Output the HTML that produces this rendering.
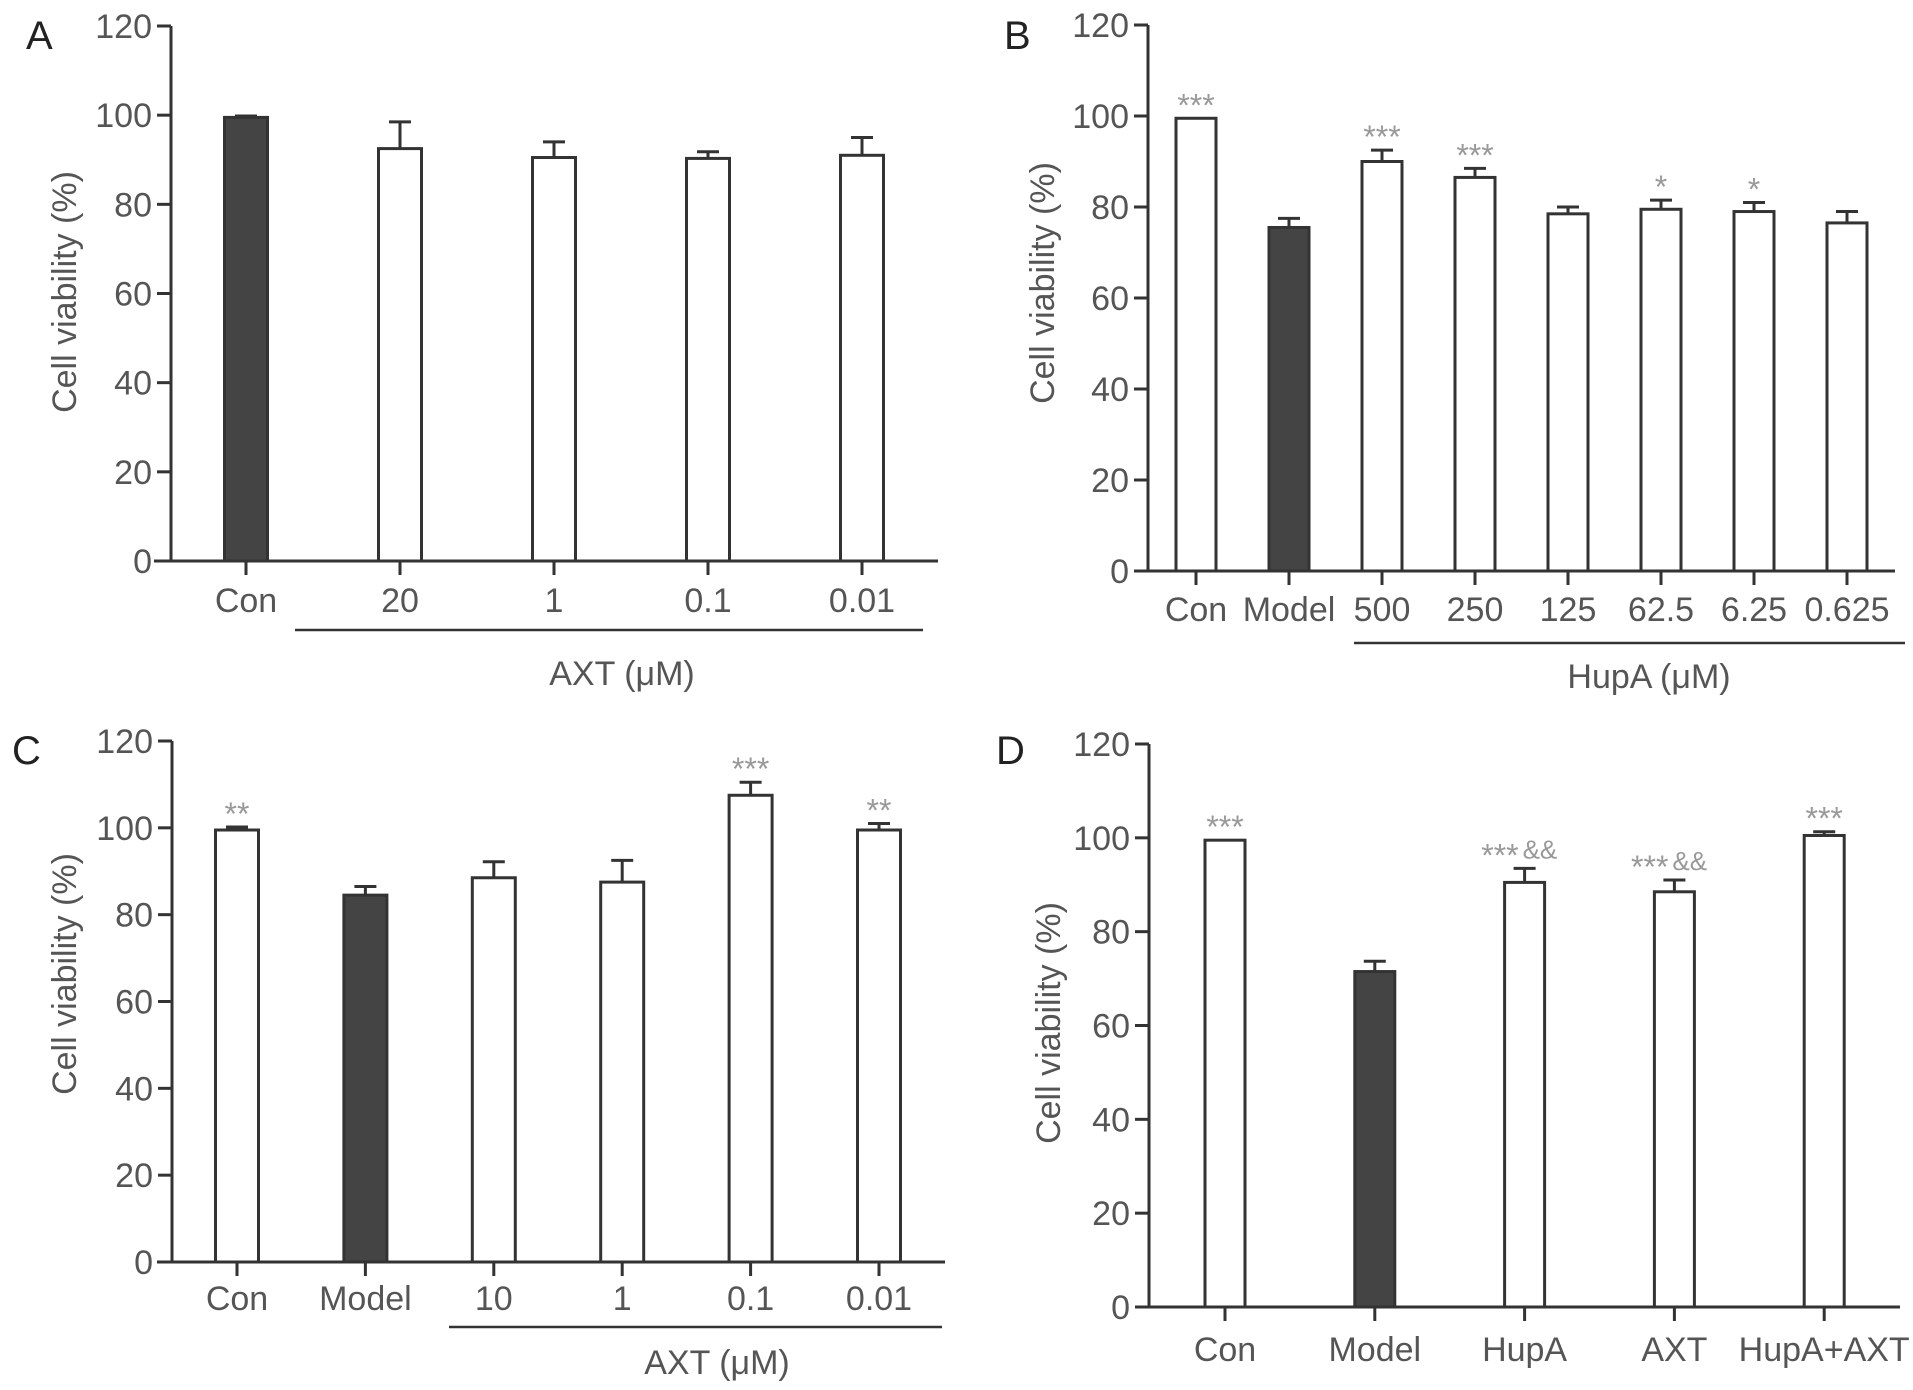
<!DOCTYPE html>
<html><head><meta charset="utf-8">
<style>
html,body{margin:0;padding:0;background:#fff;}
svg{display:block;}
text{font-family:"Liberation Sans",sans-serif;}
</style></head>
<body>
<svg id="fig" width="1913" height="1390" viewBox="0 0 1913 1390"></svg>
<script>
// Panel A data
const catsA = ["Con","20","1","0.1","0.01"];
const valsA = [99.5,92.5,90.5,90.3,91];
const errsA = [0.3,6,3.5,1.5,4];
const sigA = ["","","","",""];
// Panel B data
const catsB = ["Con","Model","500","250","125","62.5","6.25","0.625"];
const valsB = [99.5,75.5,90,86.5,78.5,79.5,79,76.5];
const errsB = [0,2,2.5,2,1.5,2,2,2.5];
const sigB = ["***","","***","***","","*","*",""];
// Panel C data
const catsC = ["Con","Model","10","1","0.1","0.01"];
const valsC = [99.5,84.5,88.5,87.5,107.5,99.5];
const errsC = [0.7,2,3.7,5,3,1.5];
const sigC = ["**","","","","***","**"];
// Panel D data
const catsD = ["Con","Model","HupA","AXT","HupA+AXT"];
const valsD = [99.5,71.5,90.5,88.5,100.5];
const errsD = [0,2.2,3,2.5,0.8];
const sigD = ["***","","***","***","***"];
const sig2D = ["","","&&","&&",""];
const yTicks = [0,20,40,60,80,100,120];

const NS="http://www.w3.org/2000/svg";
const svg=document.getElementById('fig');
function mk(tag,attrs,parent){const e=document.createElementNS(NS,tag);for(const k in attrs)e.setAttribute(k,attrs[k]);(parent||svg).appendChild(e);return e;}

function panel(p){
  const g=mk('g',{});
  
  
  const y=v=>p.y0-(v/120)*(p.y0-p.y120);
  const x=i=>p.x0c+i*p.step;
  const lt=mk('text',{x:p.lx,y:p.ly,'font-size':40,fill:'#222'},g);lt.textContent=p.id;
  
  
  const ya=mk('line',{x1:p.ax,y1:y(120),x2:p.ax,y2:p.y0,stroke:'#333','stroke-width':3},g);
  
  
  const xa=mk('line',{x1:p.xs,y1:p.y0,x2:p.xe,y2:p.y0,stroke:'#333','stroke-width':3},g);
  
  
  yTicks.forEach(t=>{
    mk('line',{x1:p.ax-14,y1:y(t),x2:p.ax,y2:y(t),stroke:'#333','stroke-width':3},g);
    const tt=mk('text',{x:p.ax-19,y:y(t)+12,'font-size':34,fill:'#555','text-anchor':'end'},g);tt.textContent=t;
    
    
  });
  const yt=mk('text',{x:0,y:0,'font-size':34,fill:'#555','text-anchor':'middle',transform:`translate(${p.ytx},${p.yty}) rotate(-90)`},g);
  yt.textContent='Cell viability (%)';
  
  
  p.cats.forEach((c,i)=>{
    const cx=x(i), v=p.vals[i], e=p.errs[i], bw=p.bw;
    const filled=(c==="Con"&&p.id==="A")||c==="Model";
    if(e>0){
      mk('line',{x1:cx,y1:y(v),x2:cx,y2:y(v+e),stroke:'#333','stroke-width':3},g);
      mk('line',{x1:cx-11,y1:y(v+e),x2:cx+11,y2:y(v+e),stroke:'#333','stroke-width':3},g);
    }
    const r=mk('rect',{x:cx-bw/2,y:y(v),width:bw,height:p.y0-y(v),fill:filled?'#444':'#fff',stroke:'#333','stroke-width':3},g);
    
    
    mk('line',{x1:cx,y1:p.y0,x2:cx,y2:p.y0+14,stroke:'#333','stroke-width':3},g);
    const tl=mk('text',{x:cx,y:p.tly,'font-size':34,fill:'#555','text-anchor':'middle'},g);tl.textContent=c;
    
    
    const s=p.sig[i], s2=p.sig2?p.sig2[i]:"";
    if(s){
      const st=mk('text',{x:s2?cx-6:cx,y:y(v+e)-2,'font-size':32,fill:'#999','text-anchor':s2?'end':'middle'},g);st.textContent=s;
      
      
      if(s2){
        const st2=mk('text',{x:cx-2,y:y(v+e)-10,'font-size':26,fill:'#999'},g);st2.textContent=s2;
        
        
      }
    }
  });
  if(p.group){
    const gl=mk('line',{x1:p.group.x1,y1:p.group.y,x2:p.group.x2,y2:p.group.y,stroke:'#333','stroke-width':2.5},g);
    
    
    const gt=mk('text',{x:p.group.tx,y:p.group.ty,'font-size':34,fill:'#555','text-anchor':'middle'},g);gt.textContent=p.group.label;
    
    
  }
}

panel({id:'A',cats:catsA,vals:valsA,errs:errsA,sig:sigA,lx:26,ly:49,ax:171,y0:561,y120:26,xs:154,xe:938,x0c:246,step:154,bw:43,tly:612,ytx:76,yty:292,
  group:{x1:295,x2:923,y:630,tx:622,ty:685,label:'AXT (\u03bcM)'}});
panel({id:'B',cats:catsB,vals:valsB,errs:errsB,sig:sigB,lx:1004,ly:49,ax:1148,y0:571,y120:25,xs:1135,xe:1895,x0c:1196,step:93,bw:40,tly:621,ytx:1054,yty:283,
  group:{x1:1354,x2:1905,y:643,tx:1649,ty:688,label:'HupA (\u03bcM)'}});
panel({id:'C',cats:catsC,vals:valsC,errs:errsC,sig:sigC,lx:12,ly:764,ax:172,y0:1262,y120:741,xs:157,xe:945,x0c:237,step:128.4,bw:43,tly:1310,ytx:76,yty:974,
  group:{x1:449,x2:942,y:1327,tx:717,ty:1374,label:'AXT (\u03bcM)'}});
panel({id:'D',cats:catsD,vals:valsD,errs:errsD,sig:sigD,sig2:sig2D,lx:996,ly:764,ax:1149,y0:1307,y120:744,xs:1135,xe:1900,x0c:1225,step:149.8,bw:40,tly:1361,ytx:1060,yty:1023});
</script>
</body></html>
